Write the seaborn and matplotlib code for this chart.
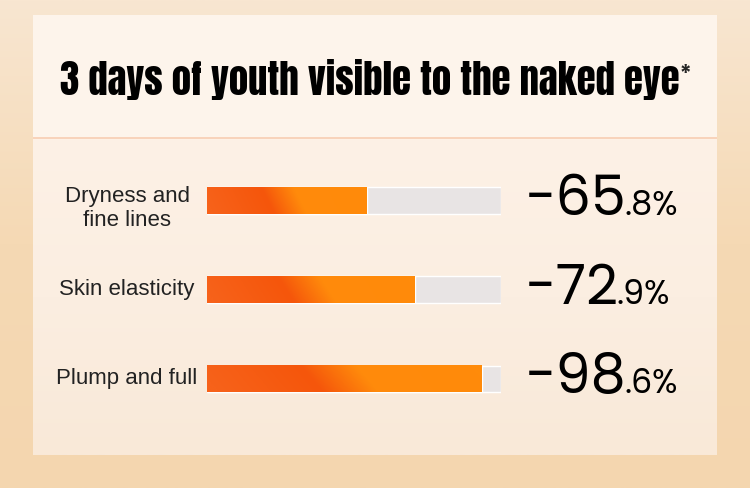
import numpy as np
import pandas as pd
import matplotlib
matplotlib.use("Agg")
import matplotlib.pyplot as plt
import seaborn as sns
from matplotlib.colors import LinearSegmentedColormap
from matplotlib.patches import Rectangle

# data
title = "3 days of youth visible to the naked eye"
categories = ["Dryness and\nfine lines", "Skin elasticity", "Plump and full"]
big_part = ["-65", "-72", "-98"]
small_part = [".8%", ".9%", ".6%"]
# how far the orange fill reaches along the grey track (%)
fill = [54.4, 70.7, 93.5]

W, H = 750, 488
sns.set_style("white")
fig = plt.figure(figsize=(7.5, 4.88), dpi=100)
title_font = ["Anton", "Oswald", "DejaVu Sans"]
num_font = ["Poppins", "Lato", "DejaVu Sans"]

# background + card, drawn in pixel coordinates
bg = fig.add_axes([0, 0, 1, 1])
bg.set_xlim(0, W)
bg.set_ylim(H, 0)
bg.axis("off")
outer = LinearSegmentedColormap.from_list("outer", ["#f8e6d1", "#f5d9b4", "#f4d6af"])
bg.imshow(np.linspace(0, 1, 256)[:, None], cmap=outer, extent=(0, W, H, 0), aspect="auto")
bg.add_patch(Rectangle((33, 15), 684, 122, color="#fdf4eb", lw=0))
card = LinearSegmentedColormap.from_list("card", ["#fdf1e6", "#fbeee1", "#f9e9d8"])
bg.imshow(np.linspace(0, 1, 256)[:, None], cmap=card, extent=(33, 717, 455, 139), aspect="auto")
bg.add_patch(Rectangle((33, 136.5), 684, 2.5, color="#f8d3bb", lw=0))
bg.set_xlim(0, W)
bg.set_ylim(H, 0)

t = bg.text(60, 95, title, ha="left", va="baseline", fontsize=30,
            family=title_font, color="black")

# bars
ax = fig.add_axes([207 / W, 1 - 423.6 / H, 294 / W, 267.75 / H])
ax.patch.set_alpha(0)
df = pd.DataFrame({"category": categories, "track": [100] * len(categories), "fill": fill})
sns.barplot(data=df, x="track", y="category", orient="h", color="#e8e4e4",
            width=0.3, saturation=1, ax=ax)
sns.barplot(data=df, x="fill", y="category", orient="h", color="#fa6a0c",
            width=0.3, saturation=1, ax=ax)

grad = LinearSegmentedColormap.from_list(
    "bar", [(0, "#f7621a"), (0.38, "#f5560b"), (0.58, "#ff8a0c"), (1, "#ff8b0a")])
gx, gy = np.meshgrid(np.linspace(0, 1, 300), np.linspace(0, 1, 30))
gimg = np.clip(gx - 0.08 * (gy - 0.5), 0, 1)
for p in ax.patches[len(categories):]:
    x0, y0, w, h = p.get_x(), p.get_y(), p.get_width(), p.get_height()
    ax.imshow(gimg, cmap=grad, extent=(x0, x0 + w, y0 + h, y0), aspect="auto", zorder=3)

ax.set_xlim(0, 100)
ax.set_ylim(2.5, -0.5)
ax.set_xticks([])
ax.set_yticks([])
ax.set_xlabel("")
ax.set_ylabel("")
sns.despine(ax=ax, left=True, bottom=True)

for i, cat in enumerate(categories):
    nl = cat.count("\n")
    ax.text(-27.2, i + 0.09 * nl, cat, ha="center", va="center", fontsize=16,
            color="#222222", family="Liberation Sans", linespacing=1.15, clip_on=False)

big_texts = []
for i, b in enumerate(big_part):
    big_texts.append(ax.text(108.5, i + 0.16, b, ha="left", va="baseline", fontsize=40,
                             family=num_font, weight="normal", color="black", clip_on=False))

fig.canvas.draw()
r = fig.canvas.get_renderer()

# fit the title to the width it has in the reference
tb = t.get_window_extent(r)
t.set_fontsize(30 * 619 / tb.width)
fig.canvas.draw()
tb = t.get_window_extent(r)
star_x, star_y = bg.transData.inverted().transform((tb.x1 + 1, tb.y1))
bg.text(star_x, 62, "*", ha="left", va="top", fontsize=15,
        family=title_font)

for i, (bt, s) in enumerate(zip(big_texts, small_part)):
    bb = bt.get_window_extent(r)
    xs = ax.transData.inverted().transform((bb.x1 - 2, 0))[0]
    ax.text(xs, i + 0.16, s, ha="left", va="baseline", fontsize=24,
            family=num_font, weight="normal", color="black", clip_on=False)

fig.savefig("out.png", dpi=100)
